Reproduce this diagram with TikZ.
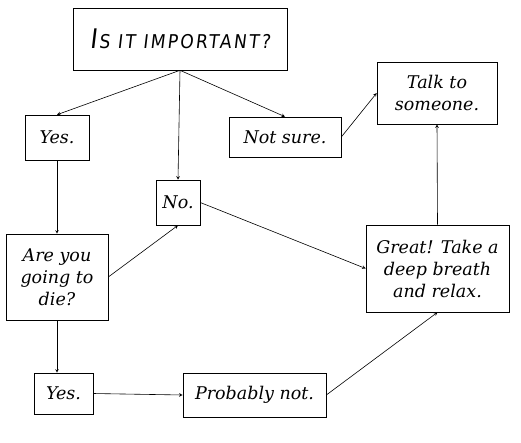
\documentclass[tikz,border=0pt]{standalone}
\usepackage{fontspec}
\setmainfont{DejaVu Serif}
\newfontfamily\titlefont[FakeSlant=0.12,LetterSpace=12]{DejaVu Sans Condensed}
\begin{document}
\begin{tikzpicture}[x=1pt,y=-1pt,>=stealth,line width=0.6pt,
  box/.style={draw,align=center,inner sep=2pt,font=\fontsize{17.5}{22}\selectfont\itshape}]
\useasboundingbox (0,0) rectangle (521,442);

\node[box,minimum width=214,minimum height=62,font=\titlefont\fontsize{19}{22}\selectfont] (title) at (180,39) {{\fontsize{27}{22}\selectfont I}\kern2pt S IT IMPORTANT?};
\node[box,minimum width=64,minimum height=45] (yesA) at (57,137.5) {Yes.};
\node[box,minimum width=44,minimum height=45] (no) at (178,202.5) {No.};
\node[box,minimum width=112,minimum height=40] (notsure) at (285,137) {Not sure.};
\node[box,minimum width=120,minimum height=62] (talk) at (437,93) {Talk to\\someone.};
\node[box,minimum width=102,minimum height=86] (die) at (57,277) {Are you\\going to\\die?};
\node[box,minimum width=143,minimum height=87] (great) at (437.5,268.5) {Great! Take a\\deep breath\\and relax.};
\node[box,minimum width=59,minimum height=41] (yesB) at (63.5,393.5) {Yes.};
\node[box,minimum width=143,minimum height=44] (probably) at (254.5,395) {Probably not.};

\draw[->] (title.south) -- (yesA.north);
\draw[->] (title.south) -- (no.north);
\draw[->] (title.south) -- (notsure.north);
\draw[->] (yesA.south) -- (die.north);
\draw[->] (die.east) -- (no.south);
\draw[->] (no.east) -- (great.west);
\draw[->] (notsure.east) -- (talk.west);
\draw[->] (great.north) -- (talk.south);
\draw[->] (die.south) -- (die.south |- yesB.north);
\draw[->] (yesB.east) -- (probably.west);
\draw[->] (probably.east) -- (great.south);
\end{tikzpicture}
\end{document}
